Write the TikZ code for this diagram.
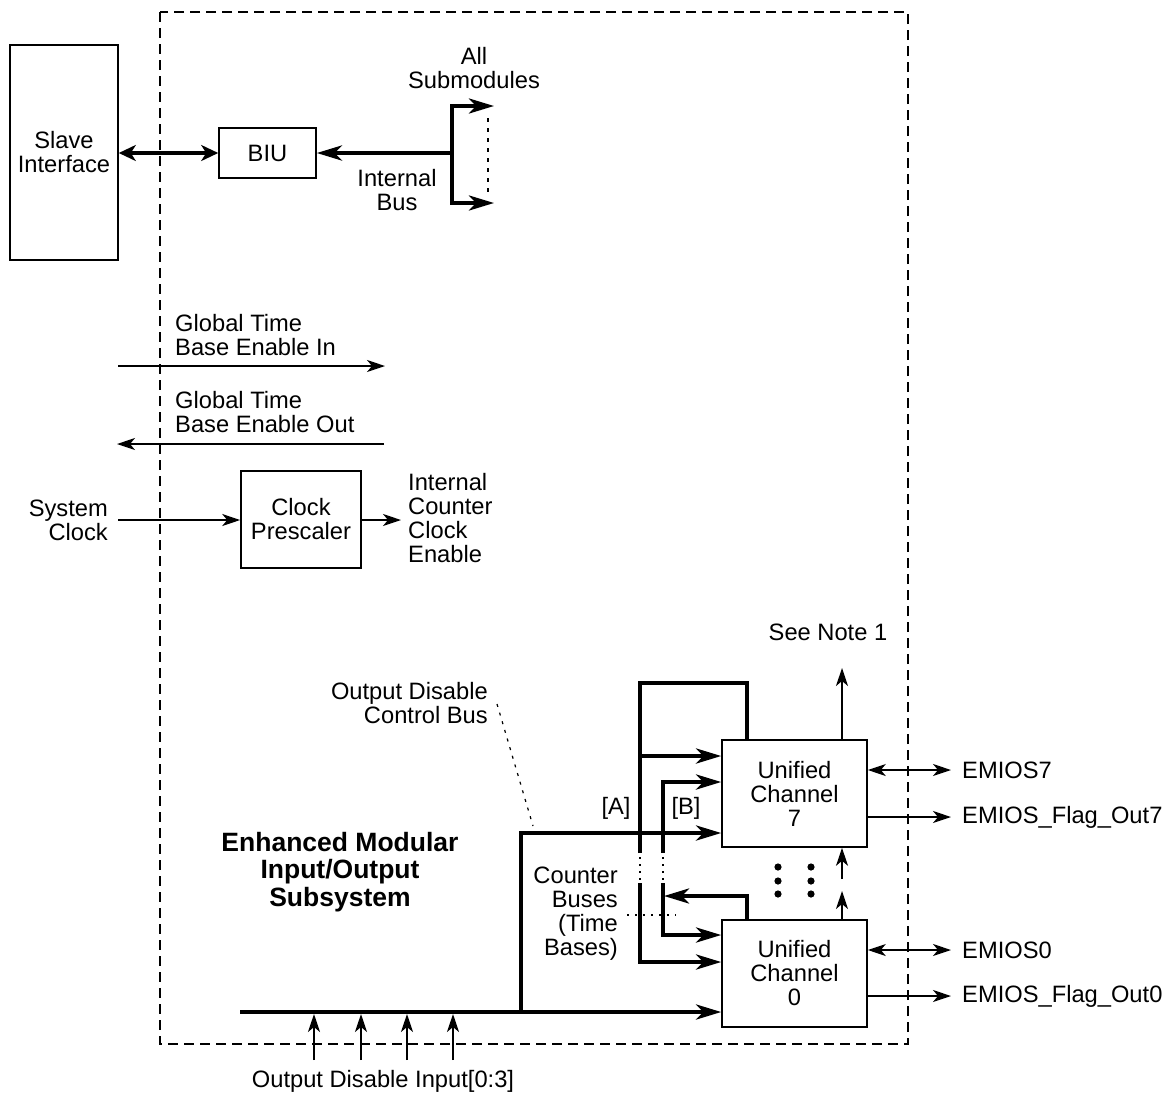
\documentclass[tikz,border=0pt]{standalone}
\usepackage{fontspec}
\setmainfont{Liberation Sans}
\usetikzlibrary{arrows.meta,calc}
\begin{document}
\begin{tikzpicture}[x=1pt,y=-1pt,
  box/.style={draw,line width=1.6pt,align=center,inner sep=0pt},
  thinln/.style={line width=1.5pt},
  bus/.style={line width=4pt},
  ttip/.style={-{Stealth[length=25pt,width=15pt,inset=7pt]}},
  stip/.style={-{Stealth[length=18pt,width=12pt,inset=5pt]}},
  dstip/.style={{Stealth[length=18pt,width=12pt,inset=5pt]}-{Stealth[length=18pt,width=12pt,inset=5pt]}},
  dttip/.style={{Stealth[length=17pt,width=16pt,inset=5pt]}-{Stealth[length=17pt,width=16pt,inset=5pt]}},
  lbl/.style={inner sep=0pt},
  font=\fontsize{23.7}{24}\selectfont]
\useasboundingbox (0,0) rectangle (1170,1096);
% outer dashed frame
\draw[line width=1.5pt,dash pattern=on 10pt off 6pt] (160,12) rectangle (908,1044);

% boxes
\node[box,minimum width=108pt,minimum height=215pt] (slave) at (64,152.5) {Slave\\Interface};
\node[box,minimum width=97pt,minimum height=50pt] (biu) at (267.5,153) {BIU};
\node[box,minimum width=120pt,minimum height=97pt] (clk) at (301,519.5) {Clock\\Prescaler};
\node[box,minimum width=145pt,minimum height=107pt] (uc7) at (794.5,793.5) {Unified\\Channel\\7};
\node[box,minimum width=145pt,minimum height=107pt] (uc0) at (794.5,973.5) {Unified\\Channel\\0};

% top part
\draw[bus,dttip] (slave.east |- biu.west) -- (biu.west);
\coordinate (ibus) at (452,153);
\draw[bus,ttip] (ibus) -- (biu.east);
\coordinate (subT) at (494,106);
\coordinate (subB) at (494,203);
\draw[bus,ttip] (ibus) -- (452,106) -- (subT);
\draw[bus,ttip] (ibus) -- (452,203) -- (subB);
\draw[line width=1.5pt,dash pattern=on 4pt off 6pt] (488,118) -- (488,194);
\node[lbl,align=center] (allsub) at (474,68) {All\\Submodules};
\node[lbl,align=center] (intbus) at (397,190) {Internal\\Bus};

% global time base
\coordinate (gtiA) at (118,366);
\coordinate (gtiB) at (385,366);
\draw[thinln,stip] (gtiA) -- (gtiB);
\node[lbl,align=left,anchor=west] (gti) at (175,335) {Global Time\\Base Enable In};
\coordinate (gtoA) at (384,444);
\coordinate (gtoB) at (117,444);
\draw[thinln,stip] (gtoA) -- (gtoB);
\node[lbl,align=left,anchor=west] (gto) at (175,412) {Global Time\\Base Enable Out};

% clock
\node[lbl,align=right,anchor=east] (sysclk) at (108,520) {System\\Clock};
\coordinate (clkin) at (118,520);
\draw[thinln,stip] (clkin) -- (clk.west |- clkin);
\coordinate (clkout) at (401,520);
\draw[thinln,stip] (clk.east |- clkout) -- (clkout);
\node[lbl,align=left,anchor=west] (icce) at (408,518) {Internal\\Counter\\Clock\\Enable};

% bottom control bus
\coordinate (cbL) at (240,1012);
\draw[bus,ttip] (cbL) -- (cbL -| uc0.west);
\coordinate (cbV) at (521,1012);
\coordinate (cbT) at (521,833);
\draw[bus,ttip] (cbV) -- (cbT) -- (cbT -| uc7.west);
\foreach \x/\n in {314/a,361/b,407/c,453/d}{
  \coordinate (odi\n) at (\x,1060);
  \draw[thinln,stip] (odi\n) -- (\x,1014);
}
\node[lbl] (odin) at (383,1081) {Output Disable Input[0:3]};
\node[lbl,align=right,anchor=east] (odcb) at (488,703) {Output Disable\\Control Bus};
\coordinate (dl1) at (497,704);
\coordinate (dl2) at (533,826);
\draw[line width=1.2pt,dash pattern=on 3pt off 6pt] (dl1) -- (dl2);

\node[lbl,align=center,font=\fontsize{26.5}{27.5}\selectfont\bfseries] (emios) at (340,872) {Enhanced Modular\\Input/Output\\Subsystem};

% counter bus A
\coordinate (aB) at (640,853);
\coordinate (aT) at (640,683);
\coordinate (aR) at (747,683);
\draw[bus] (aB) -- (aT) -- (aR) -- (aR |- uc7.north);
\coordinate (a7) at (640,756);
\draw[bus,ttip] (a7) -- (a7 -| uc7.west);
\coordinate (aB2) at (640,883);
\coordinate (a0) at (640,962);
\draw[bus,ttip] (aB2) -- (a0) -- (a0 -| uc0.west);
% counter bus B
\coordinate (bB) at (663,853);
\coordinate (b7) at (663,782);
\draw[bus,ttip] (bB) -- (b7) -- (b7 -| uc7.west);
\coordinate (bB2) at (663,883);
\coordinate (b0) at (663,935);
\draw[bus,ttip] (bB2) -- (b0) -- (b0 -| uc0.west);
\coordinate (fbT) at (747,896);
\coordinate (fbE) at (664,896);
\draw[bus,ttip] (fbT |- uc0.north) -- (fbT) -- (fbE);
% dotted gaps
\draw[line width=2pt,dash pattern=on 2pt off 5pt] (640,857) -- (640,881);
\draw[line width=2pt,dash pattern=on 2pt off 5pt] (663,857) -- (663,881);
\draw[line width=1.5pt,dash pattern=on 2pt off 6pt] (627,915) -- (676,915);
\node[lbl,align=right,anchor=east] (cbus) at (618,914) {Counter\\Buses\\(Time\\Bases)};
\node[lbl] (lA) at (616,808) {[A]};
\node[lbl] (lB) at (686,808) {[B]};

% channel up arrows
\coordinate (note) at (842,668);
\draw[thinln,stip] (uc7.north -| note) -- (note);
\node[lbl] (seenote) at (828,632) {See Note 1};
\coordinate (u0a) at (842,891);
\draw[thinln,stip] (uc0.north -| u0a) -- (u0a);
\coordinate (u7s) at (842,879);
\draw[thinln,stip] (u7s) -- (uc7.south -| u7s);
% dots
\foreach \x in {778,811}{\foreach \y in {867,881,894}{\fill (\x,\y) circle (3.6pt);}}

% right side signals
\coordinate (e7) at (951,770);
\draw[thinln,dstip] (uc7.east |- e7) -- (e7);
\node[lbl,anchor=west] (le7) at (962,770) {EMIOS7};
\coordinate (f7) at (951,817);
\draw[thinln,stip] (uc7.east |- f7) -- (f7);
\node[lbl,anchor=west] (lf7) at (962,817) {EMIOS\_Flag\_Out7};
\coordinate (e0) at (951,950);
\draw[thinln,dstip] (uc0.east |- e0) -- (e0);
\node[lbl,anchor=west] (le0) at (962,950) {EMIOS0};
\coordinate (f0) at (951,996);
\draw[thinln,stip] (uc0.east |- f0) -- (f0);
\node[lbl,anchor=west] (lf0) at (962,996) {EMIOS\_Flag\_Out0};
\end{tikzpicture}
\end{document}
